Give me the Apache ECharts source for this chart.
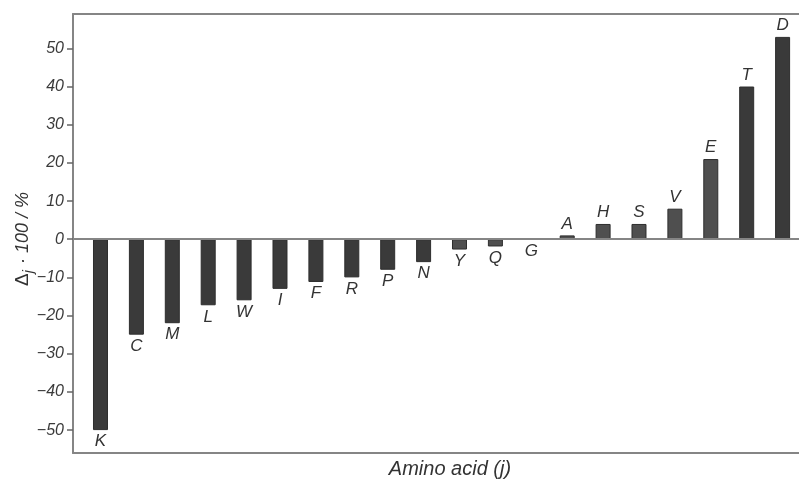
<!DOCTYPE html>
<html>
<head>
<meta charset="utf-8">
<script src="https://cdn.jsdelivr.net/npm/echarts@6/dist/echarts.min.js"></script>
<style>
  html, body { margin: 0; padding: 0; background: #fff; }
  #chart { width: 799px; height: 484px; }
</style>
</head>
<body>
<div id="chart"></div>
<script>
  // amino acids, sorted by effect
  var aminoAcids = ['K', 'C', 'M', 'L', 'W', 'I', 'F', 'R', 'P', 'N',
                    'Y', 'Q', 'G', 'A', 'H', 'S', 'V', 'E', 'T', 'D'];
  var deltaValues = [-50, -25, -22, -17.3, -16, -13, -11.2, -10, -8, -6,
                     -2.7, -1.9, 0, 1, 4, 4, 8, 21, 40, 53];
  var yTicks = [-50, -40, -30, -20, -10, 0, 10, 20, 30, 40, 50];

  // lighter bars in the figure
  var lightBars = ['Y', 'Q', 'A', 'H', 'S', 'V', 'E'];

  var chart = echarts.init(document.getElementById('chart'));

  var fontFam = '"Liberation Sans", Arial, sans-serif';
  var frameLine = { color: '#858585', width: 2 };

  // the figure is cut off on the right, so there is no right frame line
  var hiddenX = {
    type: 'value',
    min: 0.234,
    max: 20.457,
    axisLine: { show: true, onZero: false, lineStyle: frameLine },
    axisTick: { show: false },
    axisLabel: { show: false },
    splitLine: { show: false }
  };

  chart.setOption({
    animation: false,
    grid: {
      left: 73,
      right: 0,
      top: 14,
      bottom: 31
    },
    xAxis: [
      Object.assign({ position: 'bottom' }, hiddenX),
      Object.assign({ position: 'top' }, hiddenX)
    ],
    yAxis: {
      type: 'value',
      min: -56,
      max: 59,
      axisLine: { show: true, onZero: false, lineStyle: frameLine },
      splitLine: { show: false },
      axisTick: {
        show: true,
        length: 6,
        customValues: yTicks,
        lineStyle: { color: '#666', width: 1.5 }
      },
      axisLabel: {
        customValues: yTicks,
        margin: 9,
        fontFamily: fontFam,
        fontStyle: 'italic',
        fontSize: 16,
        color: '#3a3a3a',
        formatter: function (v) { return String(v).replace('-', '\u2212'); }
      }
    },
    series: [{
      type: 'bar',
      barWidth: 15,
      data: aminoAcids.map(function (a, i) {
        return {
          value: [i + 1, deltaValues[i]],
          // negative labels go below the bar end, positive ones on top
          label: { position: deltaValues[i] > 0 ? 'top' : 'bottom' }
        };
      }),
      itemStyle: {
        color: function (p) {
          return lightBars.indexOf(aminoAcids[p.dataIndex]) >= 0 ? '#4f4f4f' : '#3a3a3a';
        },
        borderColor: '#2e2e2e',
        borderWidth: 1
      },
      label: {
        show: true,
        fontFamily: fontFam,
        fontStyle: 'italic',
        fontSize: 17,
        color: '#333',
        distance: 3,
        formatter: function (p) { return aminoAcids[p.dataIndex]; }
      },
      markLine: {
        silent: true,
        symbol: 'none',
        label: { show: false },
        lineStyle: { color: '#858585', width: 2, type: 'solid' },
        data: [{ yAxis: 0 }]
      }
    }],
    graphic: [
      {
        type: 'text',
        x: 450,
        y: 469,
        style: {
          text: 'Amino acid (j)',
          font: 'italic 20px ' + fontFam,
          fill: '#333',
          textAlign: 'center',
          textVerticalAlign: 'middle'
        }
      },
      {
        type: 'text',
        x: 23,
        y: 239,
        rotation: Math.PI / 2,
        style: {
          text: '{d|\u0394}{s|j}{t| \u00b7 100 / %}',
          textAlign: 'center',
          textVerticalAlign: 'middle',
          fill: '#333',
          rich: {
            d: { fontFamily: fontFam, fontSize: 19, color: '#333', verticalAlign: 'middle' },
            s: { fontFamily: fontFam, fontStyle: 'italic', fontSize: 14, color: '#333', padding: [12, 1, 0, 0] },
            t: { fontFamily: fontFam, fontStyle: 'italic', fontSize: 18, color: '#333', verticalAlign: 'middle' }
          }
        }
      }
    ]
  });
</script>
</body>
</html>
